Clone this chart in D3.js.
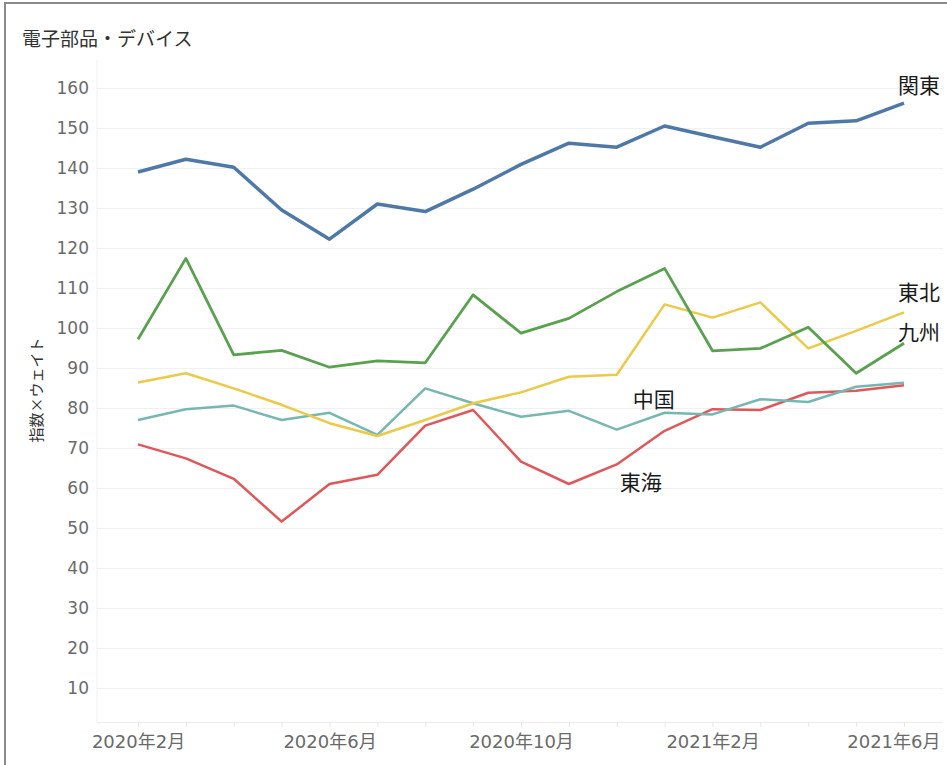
<!DOCTYPE html>
<html>
<head>
<meta charset="utf-8">
<script src="https://cdn.jsdelivr.net/npm/d3@7"></script>
<style>
    body { margin: 0; background: #fff; }
    text { font-family: "DejaVu Sans", "Noto Sans CJK JP", sans-serif; }
</style>
</head>
<body>
<script>
// months on the x axis (labels shown every 4th month)
var months = ["2020年2月", "2020年3月", "2020年4月", "2020年5月", "2020年6月", "2020年7月",
    "2020年8月", "2020年9月", "2020年10月", "2020年11月", "2020年12月", "2021年1月",
    "2021年2月", "2021年3月", "2021年4月", "2021年5月", "2021年6月"];

// series values (指数×ウェイト)
var kanto = [139, 142.2, 140.2, 129.5, 122.2, 131, 129.1, 134.7, 140.9, 146.2, 145.2, 150.5, 147.8, 145.2, 151.2, 151.8, 156.2];
var kyushu = [97.2, 117.4, 93.3, 94.4, 90.2, 91.8, 91.3, 108.3, 98.7, 102.4, 109.1, 114.9, 94.3, 94.9, 100.2, 88.7, 96.2];
var tohoku = [86.4, 88.7, 84.9, 80.8, 76.2, 73, 77, 81.2, 83.9, 87.8, 88.3, 105.9, 102.6, 106.4, 94.9, 99.3, 103.9];
var chugoku = [77, 79.7, 80.6, 77, 78.8, 73.3, 84.9, 81.2, 77.8, 79.3, 74.6, 78.8, 78.4, 82.2, 81.5, 85.3, 86.3];
var tokai = [70.9, 67.4, 62.3, 51.6, 61, 63.3, 75.6, 79.5, 66.6, 61, 65.9, 74.3, 79.7, 79.5, 83.8, 84.3, 85.7];

var yTicks = [10, 20, 30, 40, 50, 60, 70, 80, 90, 100, 110, 120, 130, 140, 150, 160];

var margin = { top: 60, right: 4, bottom: 43, left: 97 }
    , width = 947 - margin.left - margin.right
    , height = 765 - margin.top - margin.bottom;

var root = d3.select("body").append("svg")
    .attr("width", 947)
    .attr("height", 765);

// outer frame (left + top)
root.append("path")
    .attr("d", "M5,765 L5,3 L947,3")
    .attr("fill", "none")
    .attr("stroke", "#8a8a8a")
    .attr("stroke-width", 2);

// title
root.append("text")
    .attr("x", 22)
    .attr("y", 46)
    .attr("font-size", 19)
    .attr("fill", "#333")
    .style("font-family", "'Noto Sans CJK JP', sans-serif")
    .text("電子部品・デバイス");

// y axis title
root.append("text")
    .attr("transform", "translate(42,390) rotate(-90)")
    .attr("text-anchor", "middle")
    .attr("font-size", 15)
    .attr("fill", "#333")
    .style("font-family", "'Noto Sans CJK JP', sans-serif")
    .text("指数×ウェイト");

var svg = root.append("g")
    .attr("transform", "translate(" + margin.left + "," + margin.top + ")");

// X scale
var x = d3.scalePoint()
    .domain(months)
    .range([41, 807]);

// Y scale
var y = d3.scaleLinear()
    .domain([1.5, 167])
    .range([height, 0]);

// y grid + labels
var yAxis = svg.append("g")
    .attr("class", "y axis")
    .call(d3.axisLeft(y).tickValues(yTicks).tickSize(-width).tickPadding(8));
yAxis.select(".domain").remove();
yAxis.selectAll(".tick line").attr("stroke", "#f0f0f0");
yAxis.selectAll(".tick text")
    .attr("font-size", 17)
    .attr("fill", "#6a6a6a")
    .style("font-family", "'DejaVu Sans', sans-serif");

// left edge of plot
svg.append("line")
    .attr("x1", 0).attr("x2", 0)
    .attr("y1", 0).attr("y2", height)
    .attr("stroke", "#f0f0f0");

// x axis
var xAxis = svg.append("g")
    .attr("class", "x axis")
    .attr("transform", "translate(0," + height + ")")
    .call(d3.axisBottom(x)
        .tickSize(5)
        .tickPadding(8)
        .tickFormat(function (d, i) { return i % 4 === 0 ? d : ""; }));
xAxis.select(".domain")
    .attr("d", "M0,0.5H" + width)
    .attr("stroke", "#ebebeb");
xAxis.selectAll(".tick line").attr("stroke", "#e6e6e6");
xAxis.selectAll(".tick text")
    .attr("font-size", 18)
    .attr("fill", "#6a6a6a");
// keep last label inside the frame
xAxis.selectAll(".tick text").filter(function (d, i) { return i === months.length - 1; })
    .attr("text-anchor", "end")
    .attr("x", 940 - margin.left - x(months[months.length - 1]));

var series = [
    { name: "東海", values: tokai, color: "#e15759", w: 2.5, at: 10, dx: 3, dy: 26 },
    { name: "中国", values: chugoku, color: "#76b7b2", w: 2.5, at: 10, dx: 16, dy: -23 },
    { name: "東北", values: tohoku, color: "#edc948", w: 2.5, at: 16, dx: -6, dy: -12 },
    { name: "九州", values: kyushu, color: "#59a14f", w: 2.8, at: 16, dx: -6, dy: -3 },
    { name: "関東", values: kanto, color: "#4e79a7", w: 3.5, at: 16, dx: -6, dy: -10 }
];

var line = d3.line()
    .x(function (d, i) { return x(months[i]); })
    .y(function (d) { return y(d); });

series.forEach(function (s) {
    svg.append("path")
        .datum(s.values)
        .attr("fill", "none")
        .attr("stroke", s.color)
        .attr("stroke-width", s.w)
        .attr("stroke-linejoin", "round")
        .attr("d", line);
});

// line labels
series.forEach(function (s) {
    svg.append("text")
        .attr("x", x(months[s.at]) + s.dx)
        .attr("y", y(s.values[s.at]) + s.dy)
        .attr("font-size", 21)
        .attr("fill", "#1a1a1a")
        .style("font-family", "'Noto Sans CJK JP', sans-serif")
        .text(s.name);
});
</script>
</body>
</html>
